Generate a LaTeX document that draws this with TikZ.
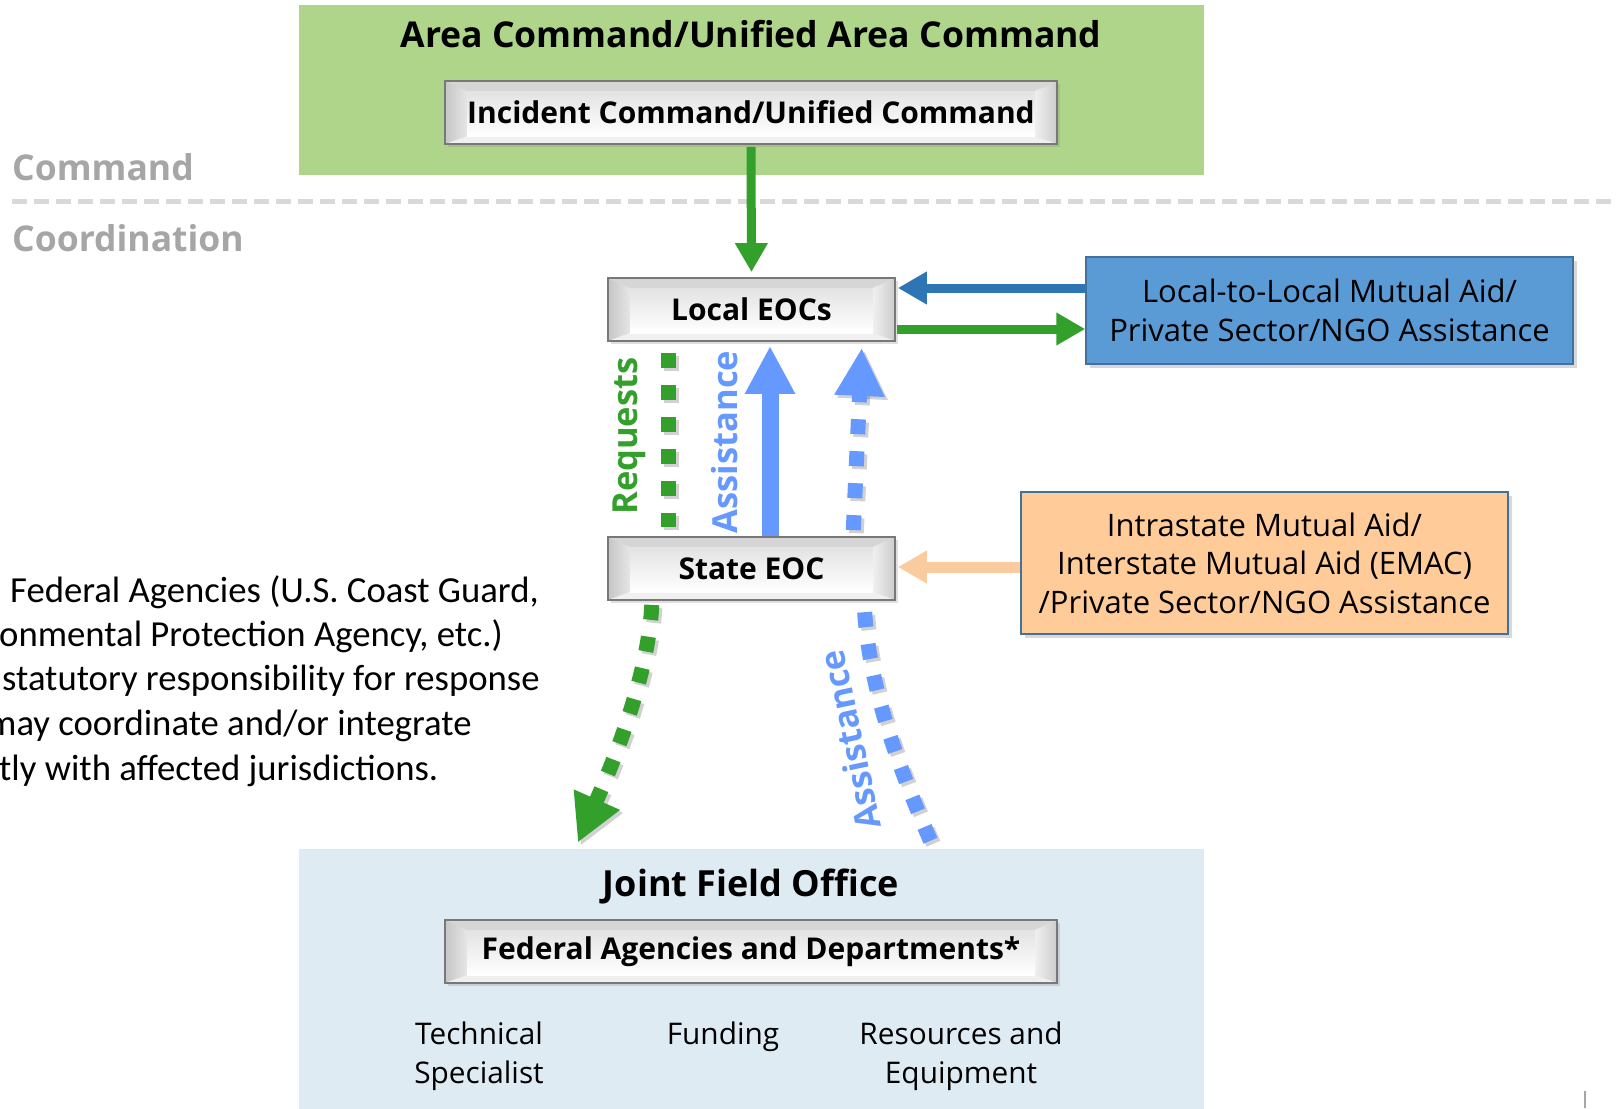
\documentclass[tikz,border=0pt]{standalone}
\usepackage{fontspec}
\setmainfont{Open Sans}
\newfontfamily\parafont{Carlito}
\usetikzlibrary{arrows.meta,shadows}

\definecolor{cgreen}{RGB}{51,160,44}
\definecolor{areagreen}{RGB}{174,213,138}
\definecolor{jfoblue}{RGB}{222,235,242}
\definecolor{boxblue}{RGB}{91,155,213}
\definecolor{boxblueline}{RGB}{65,113,156}
\definecolor{darkblue}{RGB}{46,117,182}
\definecolor{lightblue}{RGB}{102,153,255}
\definecolor{peach}{RGB}{255,204,153}
\definecolor{peacharrow}{RGB}{251,203,160}
\definecolor{labelgray}{RGB}{166,166,166}
\definecolor{dashgray}{RGB}{217,217,217}
\definecolor{bevborder}{RGB}{120,120,120}

\tikzset{
  bevelbox/.style={minimum height=63pt, inner sep=0pt, draw=bevborder, line width=1.8pt,
    font=\bfseries\fontsize{30}{36}\selectfont,
    drop shadow={shadow xshift=3pt, shadow yshift=-3pt, opacity=0.25},
    path picture={
      \path (path picture bounding box.north west) coordinate (bnw)
            (path picture bounding box.north east) coordinate (bne)
            (path picture bounding box.south west) coordinate (bsw)
            (path picture bounding box.south east) coordinate (bse);
      \path ([xshift=22pt,yshift=-10pt]bnw) coordinate (inw)
            ([xshift=-22pt,yshift=-10pt]bne) coordinate (ine)
            ([xshift=22pt,yshift=8pt]bsw) coordinate (isw)
            ([xshift=-22pt,yshift=8pt]bse) coordinate (ise);
      \fill[gray!32] (bnw) -- (bne) -- (ine) -- (inw) -- cycle;
      \shade[left color=gray!45, right color=gray!20] (bnw) -- (inw) -- (isw) -- (bsw) -- cycle;
      \shade[left color=gray!12, right color=gray!40] (bne) -- (ine) -- (ise) -- (bse) -- cycle;
      \fill[gray!12] (bsw) -- (isw) -- (ise) -- (bse) -- cycle;
      \shade[top color=gray!22, bottom color=white] (inw) rectangle (ise);
    }},
  colorbox/.style={inner sep=0pt, align=center, line width=1.5pt,
    font=\fontsize{31}{38.5}\selectfont,
    drop shadow={shadow xshift=4pt, shadow yshift=-4pt, opacity=0.3}},
  sidelabel/.style={anchor=west, text=labelgray, font=\bfseries\fontsize{35.5}{40}\selectfont, inner sep=0pt},
  paraline/.style={anchor=base west, inner sep=0pt, font=\parafont\fontsize{36.7}{44.6}\selectfont},
  flowarrow/.style={line width=9pt, -{Triangle[width=31pt,length=29pt]}},
  bigarrow/.style={line width=17pt, -{Triangle[width=47pt,length=48pt]}},
  dotline/.style={line width=15pt, dash pattern=on 15pt off 17pt},
  dotshadow/.style={draw=black, opacity=0.18, transform canvas={shift={(3pt,-3pt)}}},
  rotlabel/.style={font=\bfseries\fontsize{34.5}{40}\selectfont, inner sep=0pt},
  jfolabel/.style={align=center, font=\fontsize{29.8}{38.5}\selectfont, inner sep=0pt}
}

\begin{document}
\begin{tikzpicture}[x=1pt,y=-1pt]
\useasboundingbox (0,0) rectangle (1616,1108);
\clip (0,0) rectangle (1616,1108);
\fill[white] (0,0) rectangle (1616,1108);

% command / coordination separator
\draw[dashgray, line width=5pt, dash pattern=on 15pt off 7pt] (12,201) -- (1616,201);
\node[sidelabel] (cmdlabel) at (12,167) {Command};
\node[sidelabel] (coordlabel) at (12,238) {Coordination};

% area command
\node[fill=areagreen, minimum width=905pt, minimum height=170pt, inner sep=0pt] (area) at (751.5,90) {};
\node[font=\bfseries\fontsize{35.6}{42}\selectfont, inner sep=0pt] (areatitle) at (751,34) {Area Command/Unified Area Command};
\node[bevelbox, minimum width=612pt] (ics) at (751,112.5) {Incident Command/Unified Command};

% EOCs
\node[bevelbox, minimum width=287pt] (local) at (751.5,309.5) {Local EOCs};
\node[bevelbox, minimum width=287pt] (state) at (751.5,568.5) {State EOC};

% side boxes
\node[colorbox, fill=boxblue, draw=boxblueline, minimum width=487pt, minimum height=107pt] (mutual) at (1329.5,310.5)
  {Local-to-Local Mutual Aid/\\Private Sector/NGO Assistance};
\node[colorbox, fill=peach, draw=boxblueline, minimum width=487pt, minimum height=142pt] (intra) at (1264.5,563)
  {Intrastate Mutual Aid/\\Interstate Mutual Aid (EMAC)\\/Private Sector/NGO Assistance};

% joint field office
\node[fill=jfoblue, minimum width=905pt, minimum height=270pt, inner sep=0pt, anchor=north] (jfo) at (751.5,849) {};
\node[font=\bfseries\fontsize{36}{42}\selectfont, inner sep=0pt] (jfotitle) at (751,886) {Joint Field Office};
\node[bevelbox, minimum width=612pt] (fedag) at (751,951.5) {Federal Agencies and Departments*};
\node[jfolabel] (tech) at (479,1056) {Technical\\Specialist};
\node[jfolabel] (fund) at (723,1037) {Funding};
\node[jfolabel] (res) at (961,1056) {Resources and\\Equipment};

% left paragraph (clipped at the left edge)
\node[paraline] (p1) at (10,602) {Federal Agencies (U.S. Coast Guard,};
\node[paraline] (p2) at (-1,646) {onmental Protection Agency, etc.)};
\node[paraline] (p3) at (2,690) {statutory responsibility for response};
\node[paraline] (p4) at (-13,735) {may coordinate and/or integrate};
\node[paraline] (p5) at (-1,780) {tly with affected jurisdictions.};

% connectors: command to local
\draw[flowarrow, cgreen, shorten <=2pt, shorten >=5pt] (ics.south) -- (local.north);
\draw[flowarrow, darkblue, shorten >=2pt] (mutual.west |- 0,288) -- (local.east |- 0,288);
\draw[flowarrow, cgreen, shorten <=1pt] (local.east |- 0,329) -- (mutual.west |- 0,329);
\draw[flowarrow, peacharrow, line width=11pt, shorten >=2pt] (intra.west |- 0,567) -- (state.east |- 0,567);

% requests (dotted green)
\draw[dotline, dotshadow, shorten <=11pt, shorten >=9pt] (local.south -| 668,0) -- (state.north -| 668,0);
\draw[dotline, cgreen, shorten <=11pt, shorten >=9pt] (local.south -| 668,0) -- (state.north -| 668,0);
\node[rotlabel, text=cgreen, rotate=90] (reqlabel) at (629,436) {Requests};

% assistance solid arrow
\draw[bigarrow, lightblue, shorten >=4pt] (state.north -| 770,0) -- (local.south -| 770,0);
\node[rotlabel, text=lightblue, rotate=90] (asslabel) at (725,442) {Assistance};

% assistance dotted arrow (up)
\draw[dotline, dotshadow, shorten <=6pt, shorten >=6pt, -{Triangle[width=47pt,length=48pt]}] (state.north -| 853,0) -- (local.south -| 862,0);
\draw[dotline, lightblue, shorten <=6pt, shorten >=6pt, -{Triangle[width=47pt,length=48pt]}] (state.north -| 853,0) -- (local.south -| 862,0);

% state to JFO (dotted green)
\draw[dotline, dotshadow, shorten <=4pt, shorten >=7pt, -{Triangle[width=47pt,length=47pt]}]
  (state.south -| 652,0) .. controls (648,680) and (610,770) .. (jfo.north -| 575,0);
\draw[dotline, cgreen, shorten <=4pt, shorten >=7pt, -{Triangle[width=47pt,length=47pt]}]
  (state.south -| 652,0) .. controls (648,680) and (610,770) .. (jfo.north -| 575,0);

% JFO to state (dotted blue)
\draw[dotline, dotshadow, shorten <=9pt, shorten >=7pt]
  (jfo.north -| 934,0) .. controls (900,770) and (869,690) .. (state.south -| 864,0);
\draw[dotline, lightblue, shorten <=9pt, shorten >=7pt]
  (jfo.north -| 934,0) .. controls (900,770) and (869,690) .. (state.south -| 864,0);
\node[rotlabel, text=lightblue, rotate=102] (asslabel2) at (850,740) {Assistance};

% small mark at bottom right
\draw[gray!70, line width=2.5pt] (1585,1091) -- (1585,1108);
\end{tikzpicture}
\end{document}
